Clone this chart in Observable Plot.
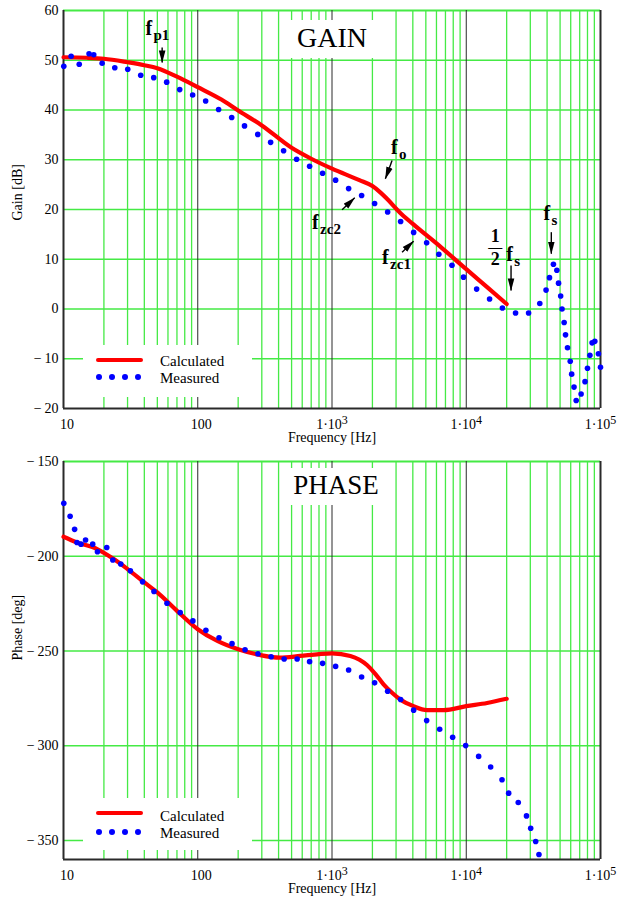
<!DOCTYPE html>
<html><head><meta charset="utf-8">
<script src="https://cdn.jsdelivr.net/npm/d3@7"></script>
<script src="https://cdn.jsdelivr.net/npm/@observablehq/plot@0.6"></script>
<style>
html,body{margin:0;padding:0;background:#fff;}
#root{position:relative;width:617px;height:901px;font-family:"Liberation Serif","Times New Roman",serif;}
.panel{position:absolute;left:0;width:617px;}
.panel svg{display:block;}
.box{position:absolute;background:#fff;}
.txt{position:absolute;white-space:nowrap;color:#000;}
.ln{position:absolute;background:#ff0000;height:4px;border-radius:2px;}
.dt{position:absolute;background:#0000ff;width:6px;height:6px;border-radius:3px;}
</style></head><body><div id="root"></div>
<script>
// ---------- data ----------
const xTicks = [10, 100, 1000, 10000, 100000];
const xTickLabels = ["10", "100", "1·10^3", "1·10^4", "1·10^5"];
const gainTicks = [-20, -10, 0, 10, 20, 30, 40, 50, 60];
const phaseTicks = [-350, -300, -250, -200, -150];

const calcGainF = [10, 15, 20, 30, 40, 50, 70, 100, 150, 200, 300, 500, 700, 1000, 1600, 2000, 2300, 2600, 3200, 4000, 6500, 10000, 14300, 20000];
const calcGain = [50.6, 50.5, 50.3, 49.6, 49.0, 48.4, 46.7, 44.6, 42.1, 39.9, 36.9, 32.4, 30.2, 28.2, 25.9, 24.7, 23.4, 22.0, 19.4, 17.1, 12.4, 8.0, 4.4, 1.0];

const measGainF = [10.05, 11.4, 13.1, 15.5, 16.8, 19.4, 24.1, 30.1, 37.6, 47, 58.7, 73.4, 91.6, 114.5, 143, 179, 223, 280, 349, 436, 545, 681, 851, 1064, 1330, 1662, 2077, 2597, 3245, 4056, 5070, 6250, 7830, 9540, 11950, 14920, 18590, 23300, 29130, 35300, 39300, 41700, 44600, 47300, 48700, 50500, 51700, 53600, 54900, 56800, 59500, 61000, 63500, 65900, 71700, 76700, 80000, 83400, 86600, 90700, 96500, 100000];
const measGain = [48.8, 50.8, 49.2, 51.3, 51.1, 49.4, 48.5, 48.2, 47.0, 46.5, 45.6, 44.1, 43.0, 41.8, 40.1, 38.5, 36.8, 35.1, 33.5, 31.8, 30.1, 28.7, 27.3, 25.9, 24.2, 22.8, 21.2, 19.5, 17.6, 15.4, 13.3, 11.0, 8.8, 6.4, 4.0, 2.0, 0.2, -0.8, -0.8, 1.1, 3.8, 6.3, 9.0, 7.8, 5.2, 2.6, 0.0, -2.7, -5.2, -7.8, -10.5, -13.1, -15.7, -18.4, -17.1, -14.6, -11.9, -9.3, -6.8, -6.5, -9.0, -11.7];

const calcPhaseF = [10, 12.6, 17.8, 23.7, 30, 40, 50, 70, 100, 140, 200, 290, 410, 580, 800, 1000, 1370, 1830, 2100, 2420, 2800, 3230, 4040, 5080, 6780, 10000, 14300, 20000];
const calcPhase = [-189.7, -192.7, -196.2, -201.5, -206.8, -213.8, -219.1, -228.8, -238.5, -244.7, -249.1, -252.1, -253.5, -252.6, -251.6, -251.2, -252.6, -257.5, -262, -267.6, -272, -275.6, -279.1, -281.2, -281.2, -279.1, -277.4, -275.2];

const measPhaseF = [10.05, 11.2, 12.1, 12.6, 13.5, 14.6, 16.5, 17.9, 21, 23.3, 26.7, 31.5, 38.8, 47.2, 59, 74, 92, 115, 144, 180, 225, 281, 352, 440, 550, 681, 851, 1064, 1330, 1662, 2077, 2597, 3245, 4056, 5070, 6340, 7920, 9900, 12370, 15200, 18470, 20700, 24400, 28100, 30200, 32900, 34800];
const measPhase = [-172.0, -178.9, -185.8, -192.7, -193.6, -191.4, -193.6, -197.6, -195.4, -202.0, -204.1, -207.7, -213.5, -218.6, -224.8, -229.7, -234.1, -239.1, -243.0, -246.1, -249.3, -251.4, -253.0, -254.2, -254.2, -255.6, -256.5, -258.1, -260.0, -263.7, -266.8, -271.2, -275.6, -281.2, -286.7, -291.3, -295.5, -299.9, -305.6, -311.2, -317.9, -325.0, -329.9, -337.0, -343.5, -350.5, -357.4];

// annotations (gain chart): label anchor in data units
const annoF = [40.8, 2754, 711, 2362, 19890, 37670];
const annoGain = [56.3, 32.5, 17.4, 10.35, 11.0, 19.1];
const annoSub = ["p1", "o", "zc2", "zc1", "s", "s"];
const fracF = [19890];
const fracGain = [11.0];
const arrowF1 = [54.3, 2802, 1189, 3327, 21560, 43020];
const arrowG1 = [52.56, 29.85, 19.94, 11.42, 8.74, 15.44];
const arrowF2 = [54.3, 2498, 1476, 4055, 21560, 43020];
const arrowG2 = [49.55, 26.17, 22.35, 13.63, 3.72, 11.1];

// ---------- helpers ----------
const SERIF = '"Liberation Serif", "Times New Roman", serif';
const GREEN = "#45ea45";
const DARK = "#2a2a2a";
const minorX = [];
for (const dec of [10, 100, 1000, 10000]) for (let k = 2; k <= 9; k++) minorX.push(dec * k);
const fmtY = d => d < 0 ? "\u2212\u2009" + Math.abs(d) : String(d);
const fmtX = d => xTickLabels[xTicks.indexOf(d)];

function zip(a, b) { return a.map((v, i) => ({x: v, y: b[i]})); }

function frameMarks(yGrid, yTopVal, yBotVal) {
  return [
    Plot.ruleX(minorX, {stroke: GREEN, strokeWidth: 1.3}),
    Plot.ruleY(yGrid, {stroke: GREEN, strokeWidth: 1.4}),
    Plot.ruleY([yTopVal], {stroke: GREEN, strokeWidth: 2.2}),
    Plot.ruleX([100, 1000, 10000], {stroke: DARK, strokeWidth: 1}),
    Plot.ruleX([10, 100000], {stroke: DARK, strokeWidth: 2}),
    Plot.ruleY([yBotVal], {stroke: DARK, strokeWidth: 2})
  ];
}

function finish(svg) {
  const s = d3.select(svg);
  const defs = s.append("defs");
  defs.append("marker").attr("id", "ahead").attr("viewBox", "0 -4 13 8")
    .attr("markerWidth", 13).attr("markerHeight", 8).attr("markerUnits", "userSpaceOnUse")
    .attr("refX", 12).attr("refY", 0).attr("orient", "auto")
    .append("path").attr("d", "M0,-3.3L12.5,0L0,3.3Z").attr("fill", "#000");
  s.selectAll('g[aria-label="link"] path').attr("marker-end", "url(#ahead)");
  s.selectAll('[aria-label^="x-axis"] text').each(function () {
    const t = this.textContent;
    if (t.includes("^")) {
      const [base, exp] = t.split("^");
      this.textContent = "";
      const e = d3.select(this);
      e.append("tspan").text(base);
      e.append("tspan").attr("font-size", 12).attr("dy", -5).text(exp);
    } else {
      d3.select(this).attr("dx", 3.5);
    }
  });
  return svg;
}

const common = {
  width: 617,
  marginLeft: 63, marginRight: 17,
  style: {fontFamily: SERIF, fontSize: "14px", color: "#000", background: "#fff", overflow: "visible"},
};

// ---------- gain chart ----------
const annos = annoF.map((f, i) => ({f, g: annoGain[i], sub: annoSub[i]}));
const fracs = fracF.map((f, i) => ({f, g: fracGain[i]}));
const arrows = arrowF1.map((f, i) => ({x1: f, y1: arrowG1[i], x2: arrowF2[i], y2: arrowG2[i]}));

const gain = Plot.plot({
  ...common,
  height: 450, marginTop: 10, marginBottom: 42,
  x: {type: "log", domain: [10, 100000], ticks: xTicks, tickFormat: fmtX, tickSize: 0, tickPadding: 11, label: null},
  y: {domain: [-20, 60], ticks: gainTicks, tickFormat: fmtY, tickSize: 0, tickPadding: 5, label: null},
  marks: [
    ...frameMarks([-10, 0, 10, 20, 30, 40, 50], 60, -20),
    Plot.text(["Gain [dB]"], {frameAnchor: "left", rotate: -90, dx: -46, dy: 11, fontSize: 14}),
    Plot.text(["Frequency [Hz]"], {frameAnchor: "bottom", dy: 29, fontSize: 14, lineAnchor: "middle"}),
    Plot.line(zip(calcGainF, calcGain), {x: "x", y: "y", stroke: "#ff0000", strokeWidth: 4.2, curve: "monotone-x", strokeLinecap: "round"}),
    Plot.dot(zip(measGainF, measGain), {x: "x", y: "y", r: 2.8, fill: "#0000ff"}),
    Plot.text(annos, {x: "f", y: "g", text: () => "f", textAnchor: "start", lineAnchor: "middle", fontSize: 20, fontWeight: "bold"}),
    Plot.text(annos, {x: "f", y: "g", text: "sub", textAnchor: "start", lineAnchor: "middle", fontSize: 15, fontWeight: "bold", dx: 8, dy: 6.6}),
    Plot.text(fracs, {x: "f", y: "g", text: () => "1", textAnchor: "middle", lineAnchor: "middle", fontSize: 18, fontWeight: "bold", dx: -11, dy: -18}),
    Plot.text(fracs, {x: "f", y: "g", text: () => "\u2014", textAnchor: "middle", lineAnchor: "middle", fontSize: 14, fontWeight: "bold", dx: -11, dy: -7}),
    Plot.text(fracs, {x: "f", y: "g", text: () => "2", textAnchor: "middle", lineAnchor: "middle", fontSize: 18, fontWeight: "bold", dx: -11, dy: 5.2}),
    Plot.link(arrows, {x1: "x1", y1: "y1", x2: "x2", y2: "y2", stroke: "#000", strokeWidth: 1.4})
  ]
});

// ---------- phase chart ----------
const phase = Plot.plot({
  ...common,
  height: 451, marginTop: 11, marginBottom: 42,
  x: {type: "log", domain: [10, 100000], ticks: xTicks, tickFormat: fmtX, tickSize: 0, tickPadding: 11, label: null},
  y: {domain: [-360, -150], ticks: phaseTicks, tickFormat: fmtY, tickSize: 0, tickPadding: 5, label: null},
  marks: [
    ...frameMarks([-350, -300, -250, -200], -150, -360),
    Plot.text(["Phase [deg]"], {frameAnchor: "left", rotate: -90, dx: -46, dy: 0, fontSize: 14}),
    Plot.text(["Frequency [Hz]"], {frameAnchor: "bottom", dy: 29, fontSize: 14, lineAnchor: "middle"}),
    Plot.line(zip(calcPhaseF, calcPhase), {x: "x", y: "y", stroke: "#ff0000", strokeWidth: 4.2, curve: "monotone-x", strokeLinecap: "round"}),
    Plot.dot(zip(measPhaseF, measPhase), {x: "x", y: "y", r: 2.8, fill: "#0000ff"})
  ]
});

// ---------- layout ----------
const root = document.getElementById("root");
function panel(top, height, svg) {
  const p = document.createElement("div");
  p.className = "panel";
  p.style.top = top + "px";
  p.style.height = height + "px";
  p.appendChild(finish(svg));
  root.appendChild(p);
  return p;
}
function el(parent, cls, css, text) {
  const d = document.createElement("div");
  d.className = cls;
  Object.assign(d.style, css);
  if (text) d.textContent = text;
  parent.appendChild(d);
  return d;
}
function title(p, text, left, top, w, h, size, baseline) {
  el(p, "box", {left: left + "px", top: top + "px", width: w + "px", height: h + "px"});
  el(p, "txt", {left: left + "px", width: w + "px", textAlign: "center", fontSize: size + "px", lineHeight: size + "px",
    top: (baseline - 0.838 * size) + "px"}, text);
}
function legend(p, boxTop, lineY, dotY, calcBase, measBase) {
  el(p, "box", {left: "83px", top: boxTop + "px", width: "169px", height: "52px"});
  el(p, "ln", {left: "96px", top: (lineY - 2) + "px", width: "47px"});
  for (const cx of [99, 112.3, 125, 137.7]) el(p, "dt", {left: (cx - 3) + "px", top: (dotY - 3) + "px"});
  el(p, "txt", {left: "160px", fontSize: "15px", lineHeight: "15px", top: (calcBase - 12.6) + "px"}, "Calculated");
  el(p, "txt", {left: "160px", fontSize: "15px", lineHeight: "15px", top: (measBase - 12.6) + "px"}, "Measured");
}

const p1 = panel(0, 450, gain);
title(p1, "GAIN", 284, 20, 96, 38, 28, 47);
legend(p1, 345, 360, 377, 366.7, 383.3);

const p2 = panel(450, 451, phase);
title(p2, "PHASE", 285, 18, 102, 37, 27, 45);
legend(p2, 348, 363.3, 381.7, 371.7, 388.3);
</script></body></html>
